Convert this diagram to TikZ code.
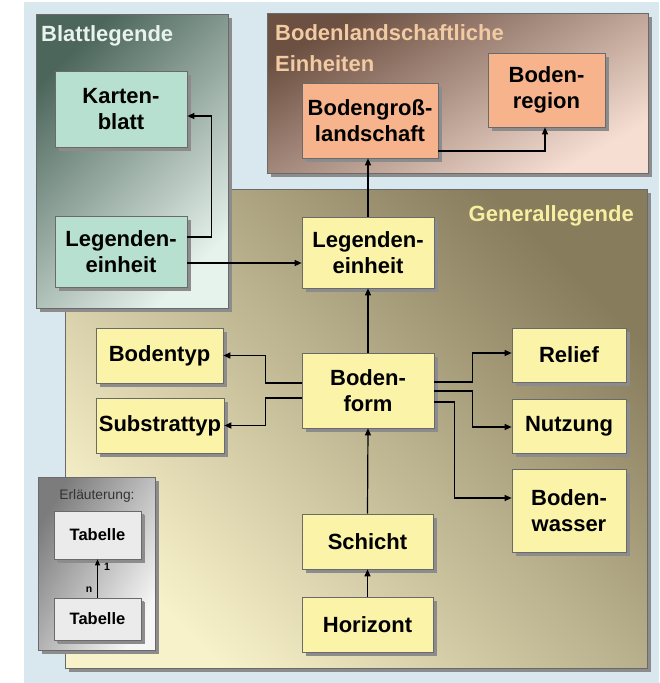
\documentclass[tikz,border=0pt]{standalone}
\usepackage{fontspec}
\setmainfont{Liberation Sans}
\usetikzlibrary{arrows.meta,shadows,calc}
\definecolor{bgblue}{HTML}{D9E8EE}
\definecolor{blattdark}{HTML}{4C665C}
\definecolor{blattlight}{HTML}{E6F2EC}
\definecolor{bodendark}{HTML}{6C5042}
\definecolor{bodenlight}{HTML}{F6DED2}
\definecolor{gendark}{HTML}{877C5C}
\definecolor{genlight}{HTML}{F8F2CA}
\definecolor{erldark}{HTML}{7C7C7C}
\definecolor{erllight}{HTML}{F6F6F6}
\definecolor{mint}{HTML}{B7E0D1}
\definecolor{salmon}{HTML}{F7B48C}
\definecolor{lyellow}{HTML}{FAF3A8}
\definecolor{tabgray}{HTML}{EBEBEB}
\definecolor{shadowgray}{HTML}{8C8C8C}
\definecolor{boxline}{HTML}{6A6A6A}
\definecolor{titleblatt}{HTML}{E8F2EE}
\definecolor{titleboden}{HTML}{F3CBA2}
\definecolor{titlegen}{HTML}{F6EFA2}
\begin{document}
\begin{tikzpicture}[x=1pt,y=-1pt,
  panelbox/.style={draw=boxline, line width=0.7pt,
    general shadow={fill=shadowgray, shadow xshift=4pt, shadow yshift=-4pt}},
  box/.style={draw=boxline, line width=0.7pt, inner sep=1pt, align=center,
    font=\fontsize{22}{26}\selectfont\bfseries, text=black,
    general shadow={fill=shadowgray, shadow xshift=3.5pt, shadow yshift=-3.5pt}},
  tabbox/.style={box, fill=tabgray, font=\fontsize{16.5}{19}\selectfont\bfseries,
    general shadow={fill=shadowgray, shadow xshift=3pt, shadow yshift=-3pt}},
  paneltitle/.style={inner sep=0pt, font=\fontsize{22}{31}\selectfont\bfseries},
  arr/.style={draw=black, line width=1.2pt, -{Triangle[length=7pt,width=6pt]}},
  smalllabel/.style={inner sep=0pt, font=\fontsize{10.5}{12}\selectfont\bfseries}
]
\useasboundingbox (0,0) rectangle (659,683);
\fill[white] (0,0) rectangle (659,683);
\fill[bgblue] (24,2) rectangle (659,683);

% panels
\path[panelbox, left color=gendark, right color=genlight, shading angle=-45]
  (65,189) rectangle (647,668);
\path[panelbox, left color=blattdark, right color=blattlight, shading angle=45]
  (36,14) rectangle (228,308);
\path[panelbox, left color=bodendark, right color=bodenlight, shading angle=30]
  (267,13) rectangle (648,173);
\path[panelbox, left color=erldark, right color=erllight, shading angle=60]
  (38,477) rectangle (155,650);

% titles
\node[paneltitle, text=titleblatt, anchor=base west] (tblatt) at (41,41) {Blattlegende};
\node[paneltitle, text=titleboden, anchor=base west] (tboden1) at (275,40) {Bodenlandschaftliche};
\node[paneltitle, text=titleboden, anchor=base west] (tboden2) at (275,71) {Einheiten};
\node[paneltitle, text=titlegen, anchor=base east] (tgen) at (634,221) {Generallegende};
\node[inner sep=0pt, font=\fontsize{13.8}{16}\selectfont, text=black!80, anchor=base]
  (terl) at (97,499) {Erläuterung:};

% nodes
\node[box, fill=mint, minimum width=132pt, minimum height=76pt] (kb) at (121,109) {Karten-\\blatt};
\node[box, fill=mint, minimum width=132pt, minimum height=71pt] (leb) at (121,251.5) {Legenden-\\einheit};
\node[box, fill=salmon, minimum width=136pt, minimum height=75pt] (bgl) at (370,120.5) {Bodengroß-\\landschaft};
\node[box, fill=salmon, minimum width=117pt, minimum height=74pt] (br) at (546.5,90) {Boden-\\region};
\node[box, fill=lyellow, minimum width=132pt, minimum height=71pt] (leg) at (368,252.5) {Legenden-\\einheit};
\node[box, fill=lyellow, minimum width=127pt, minimum height=55pt] (bt) at (159.5,355.5) {Bodentyp};
\node[box, fill=lyellow, minimum width=128pt, minimum height=55pt] (st) at (160,425.5) {Substrattyp};
\node[box, fill=lyellow, minimum width=132pt, minimum height=75pt] (bf) at (368,390.5) {Boden-\\form};
\node[box, fill=lyellow, minimum width=114pt, minimum height=54pt] (rel) at (569,355) {Relief};
\node[box, fill=lyellow, minimum width=114pt, minimum height=54pt] (nu) at (569,426) {Nutzung};
\node[box, fill=lyellow, minimum width=114pt, minimum height=83pt] (bw) at (569,510.5) {Boden-\\wasser};
\node[box, fill=lyellow, minimum width=131pt, minimum height=55pt] (sc) at (367.5,541.5) {Schicht};
\node[box, fill=lyellow, minimum width=131pt, minimum height=55pt] (ho) at (367.5,624.5) {Horizont};
\node[tabbox, minimum width=87pt, minimum height=48pt] (t1) at (97.5,535) {Tabelle};
\node[tabbox, minimum width=87pt, minimum height=42pt] (t2) at (97.5,619) {Tabelle};

% connectors
\draw[arr] ([yshift=14.5pt]leb.east) -- ++(24,0) |- ([yshift=-7pt]kb.east);
\draw[arr] ([yshift=-11.5pt]leb.east) -- ([yshift=-11.5pt]leb.east -| leg.west);
\draw[arr] (leg.north) -- (leg.north |- bgl.south);
\draw[arr] ([yshift=-30.5pt]bgl.east) -| ([xshift=-1.5pt]br.south);
\draw[arr] (bf.north) -- (leg.south);
\draw[arr] ([yshift=7.5pt]bf.west) -- ++(-36,0) |- (bt.east);
\draw[arr] ([yshift=-7.5pt]bf.west) -- ++(-36,0) |- (st.east);
\draw[arr] ([yshift=8.5pt]bf.east) -- ++(38,0) |- ([yshift=2pt]rel.west);
\draw[arr] ([yshift=-0.5pt]bf.east) -- ++(38,0) |- ([yshift=-1pt]nu.west);
\draw[arr] ([yshift=-11.5pt]bf.east) -- ++(20,0) |- ([yshift=12.5pt]bw.west);
\draw[arr] (sc.north) -- (bf.south);
\draw[arr] (ho.north) -- (sc.south);
\draw[arr, line width=1pt, -{Triangle[length=6pt,width=5pt]}] (t2.north) -- (t1.south);
\node[smalllabel] (lab1) at (107,567) {1};
\node[smalllabel] (labn) at (89,590) {n};
\end{tikzpicture}
\end{document}
